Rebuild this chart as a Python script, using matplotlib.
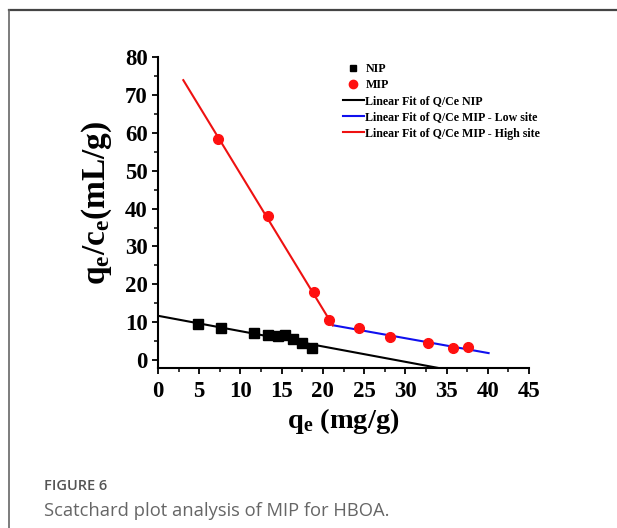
import matplotlib
matplotlib.use("Agg")
import matplotlib.pyplot as plt
from matplotlib.lines import Line2D
from matplotlib.ticker import MultipleLocator
import numpy as np

plt.rcParams["mathtext.fontset"] = "custom"
plt.rcParams["mathtext.bf"] = "Liberation Serif:bold"
plt.rcParams["mathtext.rm"] = "Liberation Serif:bold"
plt.rcParams["mathtext.it"] = "Liberation Serif:bold"

# Data
nip_qe = [4.8, 7.7, 11.6, 13.3, 14.6, 15.4, 16.4, 17.5, 18.7]
nip_ratio = [9.6, 8.5, 7.1, 6.6, 6.3, 6.5, 5.7, 4.4, 3.2]
mip_qe = [7.3, 13.4, 18.9, 20.7, 24.4, 28.2, 32.8, 35.8, 37.6]
mip_ratio = [58.4, 38.1, 18.0, 10.5, 8.6, 6.0, 4.5, 3.1, 3.5]

# Linear fits: (intercept, slope, x start, x end)
fit_nip = (11.7, -0.405, 0.0, 34.5)
fit_low = (17.45, -0.389, 21.2, 40.1)
fit_high = (84.85, -3.57, 3.07, 21.2)

legend_labels = ["NIP", "MIP", "Linear Fit of Q/Ce NIP",
                 "Linear Fit of Q/Ce MIP - Low site",
                 "Linear Fit of Q/Ce MIP - High site"]

serif = ["Liberation Serif", "DejaVu Serif"]

fig = plt.figure(figsize=(6.17, 5.28), dpi=100)
ax = fig.add_axes([158/617, 1-367.5/528, (529-158)/617, (367.5-57)/528])

def fit_line(p, color):
    b, m, x0, x1 = p
    xs = np.array([x0, x1])
    ax.plot(xs, b + m*xs, color=color, lw=1.5, zorder=2)

fit_line(fit_nip, "black")
fit_line(fit_low, "#1010ee")
fit_line(fit_high, "#ee1111")

ax.plot(nip_qe, nip_ratio, "s", color="black", ms=6.5, zorder=3)
ax.plot(mip_qe, mip_ratio, "o", color="#ff1010", ms=7, zorder=3)

ax.set_xlim(0, 45)
ax.set_ylim(-1.95, 80)
ax.spines["top"].set_visible(False)
ax.spines["right"].set_visible(False)
for s in ("left", "bottom"):
    ax.spines[s].set_linewidth(1.5)
ax.xaxis.set_major_locator(MultipleLocator(5))
ax.xaxis.set_minor_locator(MultipleLocator(2.5))
ax.yaxis.set_major_locator(MultipleLocator(10))
ax.yaxis.set_minor_locator(MultipleLocator(5))
ax.tick_params(which="major", direction="out", length=4.5, width=1.3)
ax.tick_params(which="minor", direction="out", length=3, width=1.1)
ax.tick_params(axis="x", which="major", pad=5)
ax.tick_params(axis="y", which="major", pad=3)
for lab in ax.get_xticklabels() + ax.get_yticklabels():
    lab.set_fontfamily(serif)
    lab.set_fontweight("bold")
    lab.set_fontsize(16.5)

ax.set_xlabel(r"q$_\mathbf{e}$ (mg/g)", fontfamily=serif, fontweight="bold",
              fontsize=20.5, labelpad=3)
ax.set_ylabel(r"q$_\mathbf{e}$/c$_\mathbf{e}$(mL/g)", fontfamily=serif,
              fontweight="bold", fontsize=24, labelpad=8)
ax.yaxis.set_label_coords(-0.118, 0.53)

handles = [
    Line2D([], [], marker="s", color="black", ls="none", ms=5),
    Line2D([], [], marker="o", color="#ff1010", ls="none", ms=6),
    Line2D([], [], color="black", lw=1.5),
    Line2D([], [], color="#1010ee", lw=1.5),
    Line2D([], [], color="#ee1111", lw=1.5),
]
ax.legend(handles, legend_labels, loc="upper left",
          bbox_to_anchor=((338-158)/371, 0.995), frameon=False,
          prop={"family": serif, "weight": "bold", "size": 8.6},
          handlelength=1.75, handletextpad=0.15, labelspacing=0.34,
          borderaxespad=0.1, borderpad=0.3)

# card border
fig.add_artist(Line2D([9/617, 1], [1-10/528, 1-10/528], color="#444444", lw=1.6))
fig.add_artist(Line2D([9/617, 9/617], [0, 1-10/528], color="#666666", lw=1.2))

fig.text(44/617, 1-486/528, "FIGURE 6", fontfamily="Open Sans", fontweight="semibold",
         fontsize=10.5, color="#555555", va="center")
fig.text(44/617, 1-511/528, "Scatchard plot analysis of MIP for HBOA.",
         fontfamily="Open Sans", fontsize=13.2, color="#666666", va="center")

fig.savefig("out.png", dpi=100)
